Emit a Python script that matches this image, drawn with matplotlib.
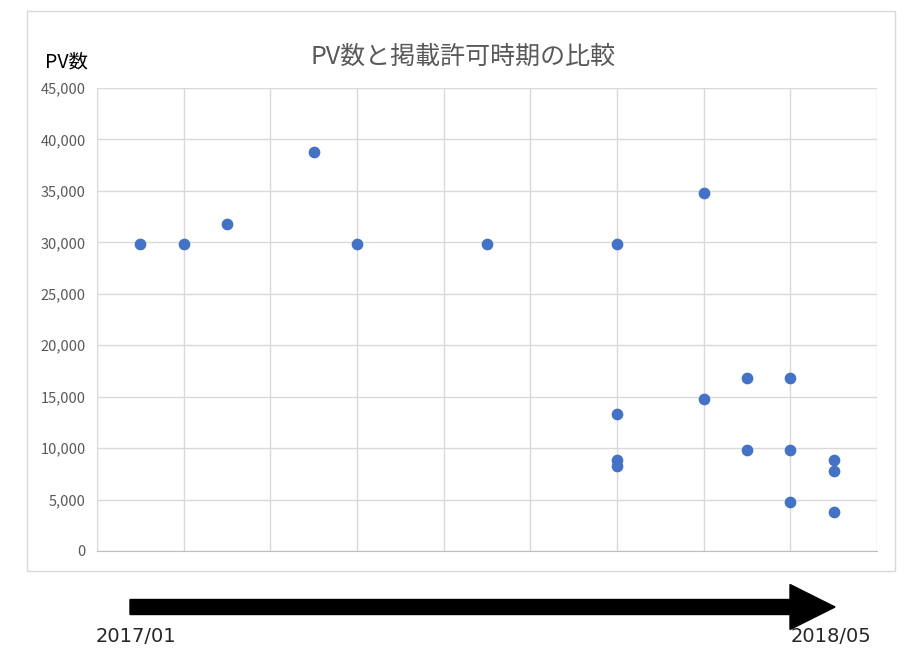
import matplotlib.pyplot as plt
from matplotlib.patches import Rectangle, FancyArrow
import numpy as np

plt.rcParams['font.family'] = ['Noto Sans CJK JP', 'DejaVu Sans']

# months since 2016/12 (x) and page views (y)
month = [1, 2, 3, 5, 6, 9, 12, 12, 12, 12, 14, 14, 15, 15, 16, 16, 16, 17, 17, 17]
pv = [29800, 29800, 31800, 38800, 29800, 29800, 29800, 13300, 8800, 8300,
      34800, 14800, 16800, 9800, 16800, 9800, 4800, 8800, 7800, 3800]
yticks = np.arange(0, 45001, 5000)
start_label = "2017/01"
end_label = "2018/05"

fig = plt.figure(figsize=(9.15, 6.64), dpi=100)

# chart area border
fig.add_artist(Rectangle((0.0295, 0.140), 0.9485, 0.8434, transform=fig.transFigure,
                         fill=False, edgecolor='#d9d9d9', linewidth=1))

ax = fig.add_axes([0.106, 0.1702, 0.8525, 0.6973])
ax.scatter(month, pv, s=55, color='#4472c4', zorder=3)
ax.set_xlim(0, 18)
ax.set_ylim(0, 45000)
ax.set_xticks(np.arange(0, 19, 2))
ax.set_xticklabels([])
ax.set_yticks(yticks)
ax.set_yticklabels([f"{v:,}" for v in yticks], color='#595959', fontsize=10.5)
ax.tick_params(length=0, pad=8)
ax.grid(True, color='#d9d9d9', linewidth=1)
ax.set_axisbelow(True)
for s in ['top', 'right']:
    ax.spines[s].set_visible(False)
ax.spines['left'].set_color('#d9d9d9')
ax.spines['bottom'].set_color('#bfbfbf')

fig.text(0.506, 0.914, "PV数と掲載許可時期の比較", ha='center', va='center',
         fontsize=18, color='#595959')
fig.text(0.049, 0.907, "PV数", ha='left', va='center', fontsize=14, color='black')

# timeline arrow below the chart
ov = fig.add_axes([0, 0, 1, 1], facecolor='none')
ov.set_xlim(0, 915)
ov.set_ylim(664, 0)
ov.axis('off')
ov.add_patch(FancyArrow(130, 607, 660, 0, width=15, head_width=45, head_length=45,
                        length_includes_head=False, color='black'))
ov.text(96, 636, start_label, ha='left', va='center', fontsize=14, color='#262626',
        family='DejaVu Sans')
ov.text(871, 636, end_label, ha='right', va='center', fontsize=14, color='#262626',
        family='DejaVu Sans')

fig.savefig("out.png", dpi=100)
